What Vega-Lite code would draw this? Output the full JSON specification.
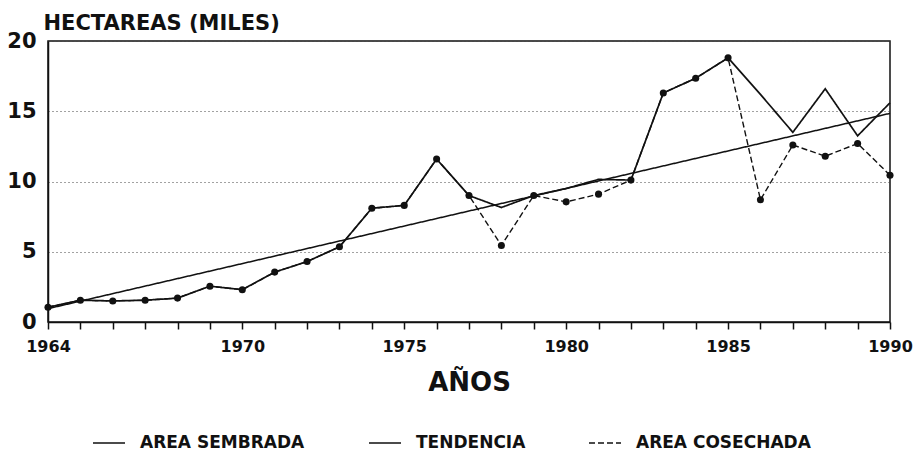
{
  "$schema": "https://vega.github.io/schema/vega-lite/v6.json",
  "width": 842,
  "height": 281,
  "autosize": {"type": "none"},
  "padding": {"left": 48, "top": 41, "right": 30, "bottom": 136},
  "background": "white",
  "config": {
    "font": "DejaVu Sans",
    "view": {"stroke": "#111", "strokeWidth": 1.5}
  },
  "data": {
    "values": [
      {"year": 1964, "serie": "AREA SEMBRADA", "valor": 1.05},
      {"year": 1965, "serie": "AREA SEMBRADA", "valor": 1.55},
      {"year": 1966, "serie": "AREA SEMBRADA", "valor": 1.5},
      {"year": 1967, "serie": "AREA SEMBRADA", "valor": 1.55},
      {"year": 1968, "serie": "AREA SEMBRADA", "valor": 1.7},
      {"year": 1969, "serie": "AREA SEMBRADA", "valor": 2.55},
      {"year": 1970, "serie": "AREA SEMBRADA", "valor": 2.3},
      {"year": 1971, "serie": "AREA SEMBRADA", "valor": 3.55},
      {"year": 1972, "serie": "AREA SEMBRADA", "valor": 4.3},
      {"year": 1973, "serie": "AREA SEMBRADA", "valor": 5.35},
      {"year": 1974, "serie": "AREA SEMBRADA", "valor": 8.1},
      {"year": 1975, "serie": "AREA SEMBRADA", "valor": 8.3},
      {"year": 1976, "serie": "AREA SEMBRADA", "valor": 11.6},
      {"year": 1977, "serie": "AREA SEMBRADA", "valor": 9.0},
      {"year": 1978, "serie": "AREA SEMBRADA", "valor": 8.15},
      {"year": 1979, "serie": "AREA SEMBRADA", "valor": 9.0},
      {"year": 1980, "serie": "AREA SEMBRADA", "valor": 9.5},
      {"year": 1981, "serie": "AREA SEMBRADA", "valor": 10.15},
      {"year": 1982, "serie": "AREA SEMBRADA", "valor": 10.1},
      {"year": 1983, "serie": "AREA SEMBRADA", "valor": 16.3},
      {"year": 1984, "serie": "AREA SEMBRADA", "valor": 17.35},
      {"year": 1985, "serie": "AREA SEMBRADA", "valor": 18.8},
      {"year": 1986, "serie": "AREA SEMBRADA", "valor": 16.2},
      {"year": 1987, "serie": "AREA SEMBRADA", "valor": 13.5},
      {"year": 1988, "serie": "AREA SEMBRADA", "valor": 16.6},
      {"year": 1989, "serie": "AREA SEMBRADA", "valor": 13.25},
      {"year": 1990, "serie": "AREA SEMBRADA", "valor": 15.6},
      {"year": 1964, "serie": "TENDENCIA", "valor": 0.95},
      {"year": 1990, "serie": "TENDENCIA", "valor": 14.85},
      {"year": 1964, "serie": "AREA COSECHADA", "valor": 1.05},
      {"year": 1965, "serie": "AREA COSECHADA", "valor": 1.55},
      {"year": 1966, "serie": "AREA COSECHADA", "valor": 1.5},
      {"year": 1967, "serie": "AREA COSECHADA", "valor": 1.55},
      {"year": 1968, "serie": "AREA COSECHADA", "valor": 1.7},
      {"year": 1969, "serie": "AREA COSECHADA", "valor": 2.55},
      {"year": 1970, "serie": "AREA COSECHADA", "valor": 2.3},
      {"year": 1971, "serie": "AREA COSECHADA", "valor": 3.55},
      {"year": 1972, "serie": "AREA COSECHADA", "valor": 4.3},
      {"year": 1973, "serie": "AREA COSECHADA", "valor": 5.35},
      {"year": 1974, "serie": "AREA COSECHADA", "valor": 8.1},
      {"year": 1975, "serie": "AREA COSECHADA", "valor": 8.3},
      {"year": 1976, "serie": "AREA COSECHADA", "valor": 11.6},
      {"year": 1977, "serie": "AREA COSECHADA", "valor": 9.0},
      {"year": 1978, "serie": "AREA COSECHADA", "valor": 5.45},
      {"year": 1979, "serie": "AREA COSECHADA", "valor": 9.0},
      {"year": 1980, "serie": "AREA COSECHADA", "valor": 8.55},
      {"year": 1981, "serie": "AREA COSECHADA", "valor": 9.1},
      {"year": 1982, "serie": "AREA COSECHADA", "valor": 10.1},
      {"year": 1983, "serie": "AREA COSECHADA", "valor": 16.3},
      {"year": 1984, "serie": "AREA COSECHADA", "valor": 17.35},
      {"year": 1985, "serie": "AREA COSECHADA", "valor": 18.8},
      {"year": 1986, "serie": "AREA COSECHADA", "valor": 8.7},
      {"year": 1987, "serie": "AREA COSECHADA", "valor": 12.6},
      {"year": 1988, "serie": "AREA COSECHADA", "valor": 11.8},
      {"year": 1989, "serie": "AREA COSECHADA", "valor": 12.7},
      {"year": 1990, "serie": "AREA COSECHADA", "valor": 10.45}
    ]
  },
  "encoding": {
    "x": {
      "field": "year",
      "type": "quantitative",
      "scale": {"domain": [1964, 1990], "nice": false, "zero": false},
      "axis": {
        "title": "AÑOS",
        "values": [1964, 1965, 1966, 1967, 1968, 1969, 1970, 1971, 1972, 1973, 1974, 1975, 1976, 1977, 1978, 1979, 1980, 1981, 1982, 1983, 1984, 1985, 1986, 1987, 1988, 1989, 1990],
        "format": "d",
        "labelExpr": "indexof([1964, 1970, 1975, 1980, 1985, 1990], datum.value) >= 0 ? datum.label : ''",
        "labelOverlap": false,
        "labelFlush": false,
        "grid": false,
        "ticks": true,
        "tickSize": 7,
        "tickColor": "#111",
        "tickWidth": 1.5,
        "domainColor": "#111",
        "domainWidth": 1.5,
        "labelFont": "DejaVu Sans",
        "labelFontWeight": "bold",
        "labelFontSize": 16,
        "labelColor": "#111",
        "labelPadding": 9,
        "titleFont": "DejaVu Sans",
        "titleFontSize": 26,
        "titleFontWeight": "bold",
        "titleColor": "#111",
        "titlePadding": 15
      }
    },
    "y": {
      "field": "valor",
      "type": "quantitative",
      "scale": {"domain": [0, 20], "nice": false},
      "axis": {
        "title": "HECTAREAS (MILES)",
        "values": [0, 5, 10, 15, 20],
        "grid": true,
        "gridDash": [1, 3],
        "gridColor": "#444",
        "gridWidth": 1,
        "ticks": false,
        "domainColor": "#111",
        "domainWidth": 1.5,
        "labelFont": "DejaVu Sans",
        "labelFontSize": 21,
        "labelFontWeight": "bold",
        "labelColor": "#111",
        "labelPadding": 12,
        "titleFont": "DejaVu Sans",
        "titleAngle": 0,
        "titleAlign": "left",
        "titleAnchor": "end",
        "titleBaseline": "alphabetic",
        "titleX": -5,
        "titleY": -12,
        "titleFontSize": 21,
        "titleFontWeight": "bold",
        "titleColor": "#111"
      }
    }
  },
  "layer": [
    {
      "mark": {"type": "line", "color": "#111"},
      "encoding": {
        "strokeDash": {
          "field": "serie",
          "type": "nominal",
          "scale": {
            "domain": ["AREA SEMBRADA", "TENDENCIA", "AREA COSECHADA"],
            "range": [[1, 0], [1, 0], [6, 3]]
          },
          "legend": {
            "orient": "none",
            "legendX": 44,
            "legendY": 385,
            "direction": "horizontal",
            "title": null,
            "symbolType": "stroke",
            "symbolSize": 1024,
            "symbolStrokeWidth": 1.5,
            "symbolStrokeColor": "#111",
            "labelFont": "DejaVu Sans",
            "labelFontSize": 17,
            "labelFontWeight": "bold",
            "labelColor": "#111",
            "labelOffset": 14,
            "columnPadding": 60,
            "labelLimit": 400
          }
        },
        "strokeWidth": {
          "field": "serie",
          "type": "nominal",
          "scale": {
            "domain": ["AREA SEMBRADA", "TENDENCIA", "AREA COSECHADA"],
            "range": [1.7, 1.4, 2]
          },
          "legend": null
        }
      }
    },
    {
      "transform": [{"filter": "datum.serie === 'AREA COSECHADA'"}],
      "mark": {"type": "point", "filled": true, "shape": "circle", "size": 50, "color": "#111", "opacity": 1}
    }
  ]
}
